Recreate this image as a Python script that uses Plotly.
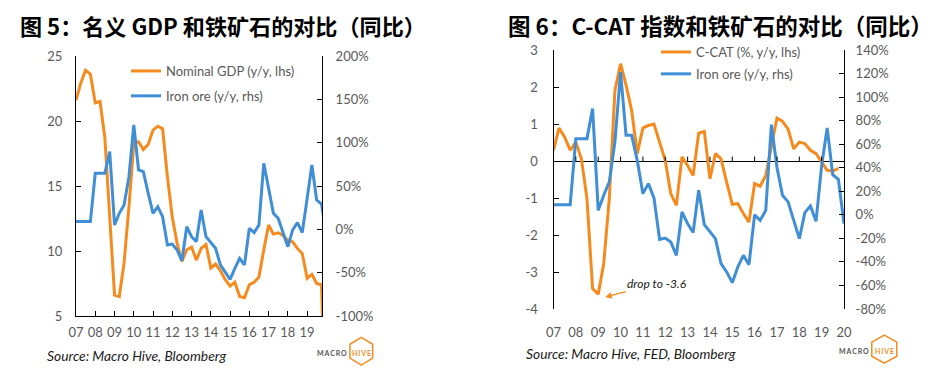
import plotly.graph_objects as go
import pandas as pd

# ---------------- data ----------------
quarters_left = pd.date_range("2007-01-01", periods=53, freq="QS")
quarters_right = pd.date_range("2007-01-01", periods=53, freq="QS")

nominal_gdp = [21.6, 22.9, 23.9, 23.6, 21.4, 21.5, 18.7, 12.5, 6.6, 6.5, 9.1, 13.4,
               18.3, 18.4, 17.8, 18.2, 19.3, 19.6, 19.4, 15.7, 12.6, 10.6, 9.2, 10.1,
               10.3, 9.3, 10.2, 10.5, 8.7, 9.0, 8.5, 7.8, 7.3, 7.6, 6.5, 6.4,
               7.4, 7.6, 8.0, 10.1, 12.0, 11.3, 11.4, 11.2, 10.8, 10.7, 10.2, 9.8,
               7.9, 8.2, 7.5, 7.4, -5.3]

iron_ore_left = [9, 9, 9, 9, 64.6, 64.6, 64.6, 89.6, 5, 18.5, 28, 60.8,
                 120.4, 68.5, 66.5, 41.6, 18.5, 26.2, 14.6, -18, -17, -23.8, -36, 3,
                 -8.5, -14.2, 22.3, -8.5, -16, -21.9, -41, -48.9, -57.7, -45, -33.4, -41,
                 1.2, -3.8, 5, 76.2, 47.3, 18.5, 12.7, -2.7, -20, -0.8, 7.7, -3.8,
                 37.7, 74.2, 33.8, 29.2, -7.5]

c_cat = [0.29, 0.89, 0.65, 0.29, 0.51, 0.06, -1.02, -3.45, -3.6, -2.77, -1.02, 1.91,
         2.63, 2.05, 1.37, 0.2, 0.89, 0.96, 1.0, 0.51, 0.02, -0.88, -1.2, 0.11,
         -0.12, -0.39, 0.75, 0.8, -0.48, 0.2, 0.06, -0.57, -1.17, -1.15, -1.42, -1.65,
         -0.61, -0.68, -0.39, 0.4, 1.16, 1.07, 0.86, 0.33, 0.51, 0.47, 0.29, 0.2,
         -0.03, -0.25, -0.27, -0.2]

iron_ore_right = [8.6, 8.6, 8.6, 8.6, 64.7, 64.7, 64.7, 90.2, 3.8, 16.6, 28, 62,
                  121.3, 67.5, 67.5, 46.3, 18, 26.5, 14.3, -20.8, -19.7, -23, -34.4, 2.4,
                  -7.5, -15, 21, -8.3, -14.6, -20.2, -41.5, -48.5, -57.6, -44.3, -34.4, -42.3,
                  0, -4.7, 3.8, 76.6, 40, 16.6, 11, -4.7, -20.2, 1.9, 7.5, -5.5,
                  42, 73.8, 34, 30.2, -7.5]

years_left = list(range(2007, 2020))
years_right = list(range(2007, 2021))
year_labels_left = ["07", "08", "09", "10", "11", "12", "13", "14", "15", "16", "17", "18", "19"]
year_labels_right = year_labels_left + ["20"]

lhs_ticks_left = [5, 10, 15, 20, 25]
rhs_ticks_left = [-100, -50, 0, 50, 100, 150, 200]
rhs_labels_left = ["-100%", "-50%", "0%", "50%", "100%", "150%", "200%"]
lhs_ticks_right = [-4, -3, -2, -1, 0, 1, 2, 3]
lhs_labels_right = ["-4", "-3", "-2", "-1", "0", "1", "2", "3"]
rhs_ticks_right = [-80, -60, -40, -20, 0, 20, 40, 60, 80, 100, 120, 140]
rhs_labels_right = [f"{v}%" for v in rhs_ticks_right]

ORANGE = "#F58B1F"
BLUE = "#3F8ED6"
GREY = "#595959"
FONT = "Lato"
W, H = 951, 373


def px(x):
    return x / W


def py(y):
    return 1 - y / H


fig = go.Figure()

fig.add_trace(go.Scatter(x=quarters_left, y=nominal_gdp, name="Nominal GDP (y/y, lhs)",
                         mode="lines", line=dict(color=ORANGE, width=3),
                         xaxis="x", yaxis="y", legend="legend", legendgroup="a"))
fig.add_trace(go.Scatter(x=quarters_left, y=iron_ore_left, name="Iron ore (y/y, rhs)",
                         mode="lines", line=dict(color=BLUE, width=3),
                         xaxis="x", yaxis="y3", legend="legend", legendgroup="b"))
fig.add_trace(go.Scatter(x=quarters_right[:len(c_cat)], y=c_cat, name="C-CAT (%, y/y, lhs)",
                         mode="lines", line=dict(color=ORANGE, width=3),
                         xaxis="x2", yaxis="y2", legend="legend2", legendgroup="c"))
fig.add_trace(go.Scatter(x=quarters_right, y=iron_ore_right, name="Iron ore (y/y, rhs)",
                         mode="lines", line=dict(color=BLUE, width=3),
                         xaxis="x2", yaxis="y4", legend="legend2", legendgroup="d"))

tickfont = dict(family=FONT, size=13, color=GREY)
axis_common = dict(showgrid=False, zeroline=False, showline=True, linecolor="#000000",
                   linewidth=1, ticks="inside", ticklen=5, tickcolor="#000000",
                   tickfont=tickfont, automargin=False)

fig.update_layout(
    width=W, height=H,
    margin=dict(l=0, r=0, t=0, b=0, autoexpand=False),
    paper_bgcolor="white", plot_bgcolor="white",
    showlegend=True,
    xaxis=dict(domain=[px(76), px(322)], anchor="y", type="date",
               range=["2007-01-01", "2019-10-10"],
               tickvals=[f"{y}-01-01" for y in years_left], ticktext=year_labels_left,
               ticklabelstandoff=4, **axis_common),
    yaxis=dict(domain=[py(316), py(56)], anchor="x", range=[5, 25],
               tickvals=lhs_ticks_left, ticklabelstandoff=10, **axis_common),
    yaxis3=dict(overlaying="y", side="right", anchor="x", range=[-100, 200],
                tickvals=rhs_ticks_left, ticktext=rhs_labels_left,
                ticklabelstandoff=10, **axis_common),
    xaxis2=dict(domain=[px(553.5), px(844)], anchor="y2", type="date",
                range=["2007-01-01", "2020-01-01"],
                tickvals=[f"{y}-01-01" for y in years_right], ticktext=year_labels_right,
                showgrid=False, zeroline=False, showline=False, ticks="",
                tickfont=tickfont, ticklabelstandoff=14, automargin=False),
    yaxis2=dict(domain=[py(309), py(50)], anchor="x2", range=[-4, 3],
                tickvals=lhs_ticks_right, ticktext=lhs_labels_right,
                ticklabelstandoff=12, **{**axis_common, "zeroline": True},
                zerolinecolor="#000000", zerolinewidth=1),
    yaxis4=dict(overlaying="y2", side="right", anchor="x2", range=[-80, 140],
                tickvals=rhs_ticks_right, ticktext=rhs_labels_right,
                ticklabelstandoff=8, **axis_common),
    legend=dict(x=px(126), y=py(56), xanchor="left", yanchor="top",
                bgcolor="rgba(0,0,0,0)", font=dict(family=FONT, size=13, color=GREY),
                tracegroupgap=5, itemwidth=30),
    legend2=dict(x=px(656), y=py(37), xanchor="left", yanchor="top",
                 bgcolor="rgba(0,0,0,0)", font=dict(family=FONT, size=13, color=GREY),
                 tracegroupgap=2, itemwidth=30),
)

# tick marks sitting on the zero line of the right chart
shapes = []
for y in years_right[1:-1]:
    shapes.append(dict(type="line", xref="x2", yref="y2", x0=f"{y}-01-01", x1=f"{y}-01-01",
                       y0=0, y1=0.12, line=dict(color="#000000", width=1)))


def hexagon(cx, cy, w, h):
    pts = [(cx, cy - h / 2), (cx + w / 2, cy - h / 4), (cx + w / 2, cy + h / 4),
           (cx, cy + h / 2), (cx - w / 2, cy + h / 4), (cx - w / 2, cy - h / 4)]
    path = "M " + " L ".join(f"{px(a):.5f},{py(b):.5f}" for a, b in pts) + " Z"
    return dict(type="path", xref="paper", yref="paper", path=path,
                line=dict(color=ORANGE, width=1.5), fillcolor="rgba(0,0,0,0)")


shapes.append(hexagon(361.3, 351.2, 22.7, 27.7))
shapes.append(hexagon(884.3, 349.2, 25, 28))
fig.update_layout(shapes=shapes)

annotations = [
    dict(text="<b>图 5：名义 GDP 和铁矿石的对比（同比）</b>", x=px(222.5), y=py(25),
         xref="paper", yref="paper", xanchor="center", yanchor="middle", showarrow=False,
         font=dict(family="Noto Sans CJK SC", size=22.1, color="#000000")),
    dict(text="<b>图 6：C-CAT 指数和铁矿石的对比（同比）</b>", x=px(720.5), y=py(25),
         xref="paper", yref="paper", xanchor="center", yanchor="middle", showarrow=False,
         font=dict(family="Noto Sans CJK SC", size=22.5, color="#000000")),
    dict(text="<i>Source: Macro Hive, Bloomberg</i>", x=px(136), y=py(355),
         xref="paper", yref="paper", xanchor="center", yanchor="middle", showarrow=False,
         font=dict(family=FONT, size=13.8, color="#1a1a1a")),
    dict(text="<i>Source: Macro Hive, FED, Bloomberg</i>", x=px(631), y=py(353),
         xref="paper", yref="paper", xanchor="center", yanchor="middle", showarrow=False,
         font=dict(family=FONT, size=13.8, color="#1a1a1a")),
    dict(text="<i>drop to -3.6</i>", x="2009-04-25", y=-3.68, xref="x2", yref="y2",
         ax=52, ay=-14, showarrow=True, arrowhead=2, arrowsize=1, arrowwidth=1.3,
         arrowcolor=ORANGE, font=dict(family=FONT, size=12, color="#1a1a1a")),
]
for cx, cy, mx in [(361.3, 352.5, 332), (884.3, 350.5, 854)]:
    annotations.append(dict(text="<b>M\u2009A\u2009C\u2009R\u2009O</b>", x=px(mx), y=py(cy),
                            xref="paper", yref="paper", xanchor="center", yanchor="middle",
                            showarrow=False, font=dict(family=FONT, size=7, color="#555555")))
    annotations.append(dict(text="<b>H\u2009I\u2009V\u2009E</b>", x=px(cx), y=py(cy),
                            xref="paper", yref="paper", xanchor="center", yanchor="middle",
                            showarrow=False, font=dict(family=FONT, size=7, color=ORANGE)))
fig.update_layout(annotations=annotations)

fig.write_html("out.html", config={"displayModeBar": False},
               post_script="document.body.style.margin='0px';")
